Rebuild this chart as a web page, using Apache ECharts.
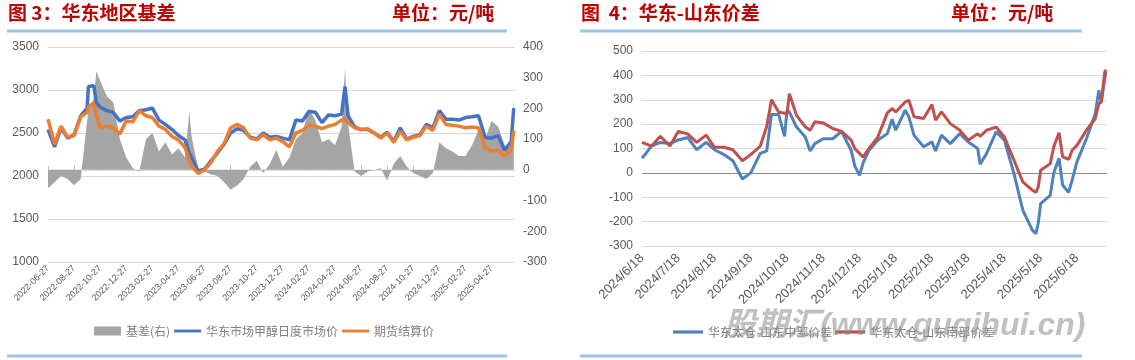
<!DOCTYPE html>
<html><head><meta charset="utf-8">
<script src="https://cdn.jsdelivr.net/npm/echarts@6/dist/echarts.min.js"></script>
<style>html,body{margin:0;padding:0;background:#fff}#c{width:1135px;height:360px}</style>
</head><body><div id="c"></div>
<script>
// ---------- 图3 华东地区基差 ----------
const basisDates = ["2022-06-27","2022-07-12","2022-07-27","2022-08-12","2022-08-27","2022-09-12","2022-09-27","2022-09-30","2022-10-12","2022-10-18","2022-10-27","2022-11-12","2022-11-27","2022-12-12","2022-12-27","2023-01-12","2023-01-27","2023-02-12","2023-02-27","2023-03-12","2023-03-27","2023-04-12","2023-04-27","2023-05-12","2023-05-22","2023-05-27","2023-06-12","2023-06-27","2023-07-12","2023-07-27","2023-08-12","2023-08-27","2023-09-12","2023-09-27","2023-10-12","2023-10-27","2023-11-12","2023-11-27","2023-12-12","2023-12-27","2024-01-12","2024-01-27","2024-02-12","2024-02-27","2024-03-12","2024-03-27","2024-04-12","2024-04-27","2024-05-12","2024-05-20","2024-05-27","2024-06-12","2024-06-27","2024-07-12","2024-07-27","2024-08-12","2024-08-27","2024-09-12","2024-09-27","2024-10-12","2024-10-27","2024-11-12","2024-11-27","2024-12-12","2024-12-27","2025-01-12","2025-01-27","2025-02-12","2025-02-27","2025-03-12","2025-03-27","2025-04-12","2025-04-27","2025-05-12","2025-05-27","2025-06-12","2025-06-18"];
const spotEast = [2540,2340,2560,2440,2480,2700,2790,3040,3050,2850,2800,2760,2740,2640,2680,2690,2760,2770,2790,2650,2600,2540,2470,2420,2260,2220,2060,2080,2180,2270,2370,2500,2550,2530,2450,2430,2500,2450,2460,2440,2420,2650,2640,2750,2740,2620,2710,2700,2720,3040,2700,2570,2540,2540,2500,2450,2510,2400,2560,2430,2460,2480,2600,2560,2760,2660,2660,2650,2680,2690,2700,2450,2440,2470,2300,2400,2790];
const futuresSettle = [2660,2370,2580,2450,2470,2690,2740,2800,2850,2700,2560,2580,2560,2490,2640,2630,2760,2700,2680,2580,2540,2460,2420,2330,2180,2120,2030,2070,2160,2290,2380,2560,2600,2560,2440,2420,2480,2420,2440,2400,2340,2500,2530,2590,2580,2550,2580,2600,2650,2670,2620,2560,2540,2550,2500,2440,2500,2390,2520,2420,2450,2470,2580,2530,2720,2600,2590,2580,2560,2570,2560,2330,2290,2300,2230,2300,2530];
const basisValues = [-60,-40,-20,-30,-50,-30,160,200,230,320,290,240,220,100,40,5,-5,100,120,60,90,50,70,40,190,110,5,-5,-15,-20,-40,-65,-50,-30,10,30,-10,20,65,10,40,100,120,200,160,90,100,80,140,330,150,-5,-20,-5,0,5,-35,20,45,10,-10,-20,-30,-10,90,70,60,45,45,80,130,100,160,140,80,70,230];
const basisTickMonths = [0,2,4,6,8,10,12,14,16,18,20,22,24,26,28,30,32,34];

// ---------- 图4 华东-山东价差 ----------
const spreadDates = ["2024-06-18","2024-06-26","2024-07-03","2024-07-11","2024-07-18","2024-07-26","2024-08-03","2024-08-11","2024-08-18","2024-08-26","2024-09-03","2024-09-11","2024-09-18","2024-09-26","2024-10-01","2024-10-05","2024-10-11","2024-10-16","2024-10-18","2024-10-20","2024-10-26","2024-11-03","2024-11-07","2024-11-11","2024-11-18","2024-11-26","2024-12-03","2024-12-11","2024-12-14","2024-12-18","2024-12-21","2024-12-26","2025-01-03","2025-01-11","2025-01-15","2025-01-18","2025-01-26","2025-01-29","2025-02-03","2025-02-11","2025-02-18","2025-02-21","2025-02-26","2025-03-03","2025-03-11","2025-03-18","2025-03-26","2025-03-28","2025-04-03","2025-04-11","2025-04-18","2025-04-26","2025-05-03","2025-05-11","2025-05-14","2025-05-16","2025-05-18","2025-05-26","2025-05-29","2025-06-03","2025-06-06","2025-06-11","2025-06-14","2025-06-18","2025-06-26","2025-07-03","2025-07-06","2025-07-08","2025-07-11","2025-07-12"];
const spreadCentral = [60,110,125,120,135,145,95,125,95,75,50,-25,0,80,90,240,240,150,255,250,188,147,90,120,140,140,170,93,30,-10,40,93,134,161,220,175,257,230,154,107,127,90,155,120,161,127,100,35,79,168,134,-3,-153,-235,-249,-205,-126,-92,0,60,-50,-80,-30,45,140,243,339,291,387,414];
const spreadSouth = [125,110,150,110,170,160,125,155,105,105,95,50,75,110,190,300,250,245,240,325,236,189,175,210,205,182,170,134,100,80,65,100,147,246,264,250,291,298,230,223,280,216,250,202,175,134,161,150,175,188,147,52,-37,-71,-80,-57,11,38,107,165,66,55,93,113,175,223,284,290,414,423];
const spreadTickMonths = [0,1,2,3,4,5,6,7,8,9,10,11,12];

function monthsSince(s, y0, m0, d0) {
  const p = s.split('-').map(Number);
  return (p[0] - y0) * 12 + (p[1] - m0) + (p[2] - d0) / 30.4;
}
function pairs(dates, vals, y0, m0, d0) {
  return dates.map((d, i) => [monthsSince(d, y0, m0, d0), vals[i]]);
}
const pad = n => (n < 10 ? '0' : '') + n;
function leftLabel(v) {
  const t = 2022 * 12 + 5 + Math.round(v);
  return Math.floor(t / 12) + '-' + pad(t % 12 + 1) + '-27';
}
function rightLabel(v) {
  const t = 2024 * 12 + 5 + Math.round(v);
  return Math.floor(t / 12) + '/' + (t % 12 + 1) + '/18';
}
const plain = v => String(v);

const axisFont = 'Liberation Sans';
const lineIcon = 'path://M0,0H28V3H0Z';
const chart = echarts.init(document.getElementById('c'), null, {renderer: 'canvas'});
chart.setOption({
  animation: false,
  backgroundColor: '#fff',
  grid: [
    {left: 48, top: 47, width: 467, height: 215},
    {left: 642, top: 51, width: 465, height: 195}
  ],
  xAxis: [
    {type: 'value', gridIndex: 0, min: 0, max: 35.8,
      axisLine: {show: true, lineStyle: {color: '#D9D9D9', width: 1}},
      axisTick: {show: true, inside: true, length: 4, customValues: basisTickMonths, lineStyle: {color: '#BFBFBF'}},
      axisLabel: {customValues: basisTickMonths, rotate: 45, fontSize: 9, color: '#595959', margin: 5, fontFamily: axisFont, formatter: leftLabel},
      splitLine: {show: false}},
    {type: 'value', gridIndex: 1, min: 0, max: 12.83,
      axisLine: {show: false}, axisTick: {show: false},
      axisLabel: {customValues: spreadTickMonths, rotate: 45, fontSize: 13, color: '#595959', margin: 10, fontFamily: axisFont, formatter: rightLabel},
      splitLine: {show: false}}
  ],
  yAxis: [
    {type: 'value', gridIndex: 0, min: 1000, max: 3500, interval: 500,
      axisLine: {show: false}, axisTick: {show: false},
      axisLabel: {fontSize: 12, color: '#595959', margin: 9, fontFamily: axisFont, formatter: plain},
      splitLine: {lineStyle: {color: '#D9D9D9'}}},
    {type: 'value', gridIndex: 0, position: 'right', min: -300, max: 400, interval: 100,
      axisLine: {show: false}, axisTick: {show: false},
      axisLabel: {fontSize: 12, color: '#595959', margin: 8, fontFamily: axisFont, formatter: plain},
      splitLine: {show: false}},
    {type: 'value', gridIndex: 1, min: -300, max: 500, interval: 100,
      axisLine: {show: false}, axisTick: {show: false},
      axisLabel: {fontSize: 12, color: '#595959', margin: 9, fontFamily: axisFont, formatter: plain},
      splitLine: {lineStyle: {color: ['#D9D9D9','#D9D9D9','#D9D9D9','#8C8C8C','#D9D9D9','#D9D9D9','#D9D9D9','#D9D9D9','#D9D9D9']}}}
  ],
  legend: [
    {left: 89, top: 320, itemWidth: 27, itemHeight: 9, itemGap: 4,
      textStyle: {fontSize: 12, color: '#7F7F7F', fontFamily: 'Noto Sans CJK SC'},
      data: [{name: '基差(右)', icon: 'rect'}, {name: '华东市场甲醇日度市场价', icon: lineIcon}, {name: '期货结算价', icon: lineIcon}]},
    {left: 668, top: 321, itemWidth: 30, itemHeight: 9, itemGap: 3,
      textStyle: {fontSize: 12, color: '#7F7F7F', fontFamily: 'Noto Sans CJK SC'},
      data: [{name: '华东太仓-山东中部价差', icon: lineIcon}, {name: '华东太仓-山东南部价差', icon: lineIcon}]}
  ],
  series: [
    {name: '基差(右)', type: 'line', xAxisIndex: 0, yAxisIndex: 1, symbol: 'none', color: '#A5A5A5',
      lineStyle: {width: 0}, areaStyle: {color: '#A5A5A5', opacity: 1},
      data: pairs(basisDates, basisValues, 2022, 6, 27)},
    {name: '华东市场甲醇日度市场价', type: 'line', xAxisIndex: 0, yAxisIndex: 0, symbol: 'none', color: '#4472C4',
      lineStyle: {width: 3.5, color: '#4472C4'}, data: pairs(basisDates, spotEast, 2022, 6, 27)},
    {name: '期货结算价', type: 'line', xAxisIndex: 0, yAxisIndex: 0, symbol: 'none', color: '#ED7D31',
      lineStyle: {width: 3.5, color: '#ED7D31'}, data: pairs(basisDates, futuresSettle, 2022, 6, 27)},
    {name: '华东太仓-山东中部价差', type: 'line', xAxisIndex: 1, yAxisIndex: 2, symbol: 'none', color: '#4F81BD',
      lineStyle: {width: 3, color: '#4F81BD'}, data: pairs(spreadDates, spreadCentral, 2024, 6, 18)},
    {name: '华东太仓-山东南部价差', type: 'line', xAxisIndex: 1, yAxisIndex: 2, symbol: 'none', color: '#C0504D',
      lineStyle: {width: 3, color: '#C0504D'}, data: pairs(spreadDates, spreadSouth, 2024, 6, 18)}
  ],
  graphic: [
    {type: 'text', left: 8, top: 3, style: {text: '图 3：华东地区基差', fontSize: 19, fontWeight: 'bold', fontFamily: 'Noto Sans CJK SC', fill: '#C00000'}},
    {type: 'text', left: 392, top: 3, style: {text: '单位：元/吨', fontSize: 19, fontWeight: 'bold', fontFamily: 'Noto Sans CJK SC', fill: '#C00000'}},
    {type: 'text', left: 581, top: 3, style: {text: '图  4：华东-山东价差', fontSize: 19, fontWeight: 'bold', fontFamily: 'Noto Sans CJK SC', fill: '#C00000'}},
    {type: 'text', left: 951, top: 3, style: {text: '单位：元/吨', fontSize: 19, fontWeight: 'bold', fontFamily: 'Noto Sans CJK SC', fill: '#C00000'}},
    {type: 'rect', shape: {x: 7, y: 29.5, width: 500, height: 3}, style: {fill: '#9DC3E6'}},
    {type: 'rect', shape: {x: 580, y: 29.5, width: 502, height: 3}, style: {fill: '#9DC3E6'}},
    {type: 'rect', shape: {x: 7, y: 354.5, width: 500, height: 3}, style: {fill: '#9DC3E6'}},
    {type: 'rect', shape: {x: 580, y: 354.5, width: 502, height: 3}, style: {fill: '#9DC3E6'}},
    {type: 'text', left: 724, top: 310, z: 100, style: {text: '股期汇(www.guqihui.cn)', fontSize: 32, fontWeight: 'bold', fontStyle: 'italic', fontFamily: 'Liberation Sans, Noto Sans CJK SC', fill: 'rgba(140,140,140,0.55)'}}
  ]
});
</script></body></html>
